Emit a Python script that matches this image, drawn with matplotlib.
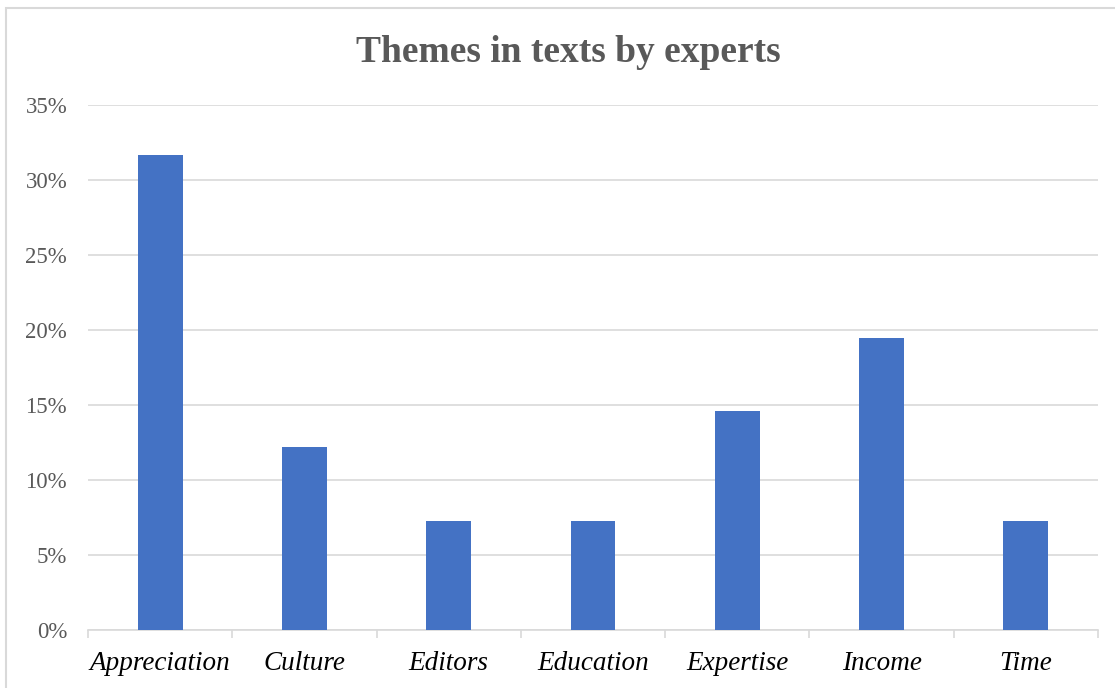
import matplotlib.pyplot as plt
from matplotlib.patches import Rectangle
from matplotlib.ticker import MultipleLocator, FuncFormatter

categories = ["Appreciation", "Culture", "Editors", "Education", "Expertise", "Income", "Time"]
values = [31.7, 12.2, 7.3, 7.3, 14.6, 19.5, 7.3]

W, H = 1115, 688
fig = plt.figure(figsize=(W / 100, H / 100), dpi=100)
plt.rcParams['font.family'] = ['Liberation Serif', 'DejaVu Serif']

# figure border (top/left visible, right/bottom cut off)
fig.patches.append(Rectangle((6 / W, -0.01), 1.2, 1 - 8 / H + 0.01, transform=fig.transFigure,
                             fill=False, edgecolor='#d9d9d9', linewidth=1.5))

ax = fig.add_axes([88 / W, 1 - 630 / H, (1098 - 88) / W, (630 - 105) / H])
x = range(len(categories))
ax.bar(x, values, width=0.31, color='#4472C4', zorder=3)
ax.set_xlim(-0.5, len(categories) - 0.5)
ax.set_ylim(0, 35)
ax.yaxis.set_major_locator(MultipleLocator(5))
ax.yaxis.set_major_formatter(FuncFormatter(lambda v, p: f"{v:.0f}%"))
ax.grid(axis='y', color='#d9d9d9', linewidth=1.2, zorder=0)
for s in ['top', 'right', 'left']:
    ax.spines[s].set_visible(False)
ax.spines['bottom'].set_color('#d9d9d9')
ax.spines['bottom'].set_linewidth(1.2)
ax.tick_params(axis='y', length=0, labelsize=16.5, labelcolor='#595959', pad=15)
ax.set_xticks(list(x))
ax.set_xticklabels(categories, fontsize=19.5, style='italic', color='black')
ax.tick_params(axis='x', length=0, pad=15)
# category boundary ticks
ax.set_xticks([i - 0.5 for i in range(len(categories) + 1)], minor=True)
ax.tick_params(axis='x', which='minor', length=6, color='#d9d9d9', width=1.2)

fig.text(568 / W, 1 - 53 / H, "Themes in texts by experts", ha='center', va='center',
         fontsize=27, fontweight='bold', color='#595959')

fig.savefig("out.png", dpi=100)
